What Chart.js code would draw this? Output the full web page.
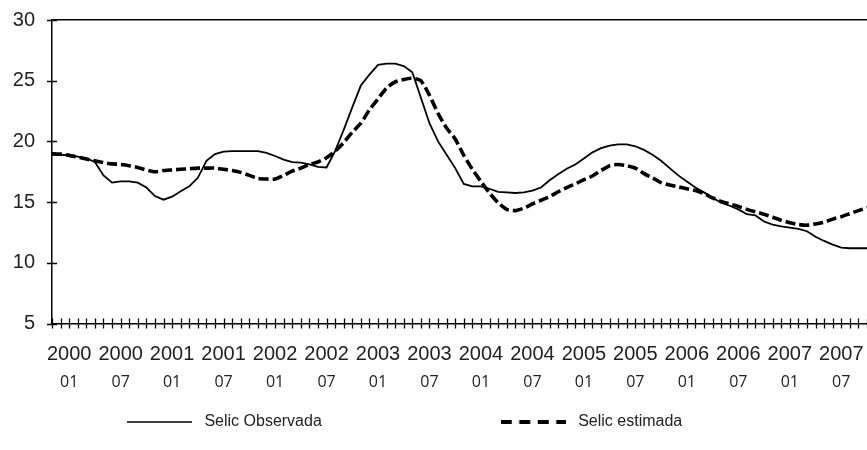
<!DOCTYPE html>
<html lang="pt">
<head>
<meta charset="UTF-8">
<title>Selic observada e estimada</title>
<style>
  html, body { margin: 0; padding: 0; background: #fff; }
  #wrap { width: 867px; height: 450px; }
</style>
</head>
<body>
<div id="wrap"><canvas id="selicChart" width="867" height="450"></canvas></div>
<script src="https://cdn.jsdelivr.net/npm/chart.js"></script>
<script>
// meses (o eixo começa dois meses antes do primeiro rótulo)
const categories = [
  '1999-11','1999-12',
  '2000-01','2000-02','2000-03','2000-04','2000-05','2000-06','2000-07','2000-08','2000-09','2000-10','2000-11','2000-12',
  '2001-01','2001-02','2001-03','2001-04','2001-05','2001-06','2001-07','2001-08','2001-09','2001-10','2001-11','2001-12',
  '2002-01','2002-02','2002-03','2002-04','2002-05','2002-06','2002-07','2002-08','2002-09','2002-10','2002-11','2002-12',
  '2003-01','2003-02','2003-03','2003-04','2003-05','2003-06','2003-07','2003-08','2003-09','2003-10','2003-11','2003-12',
  '2004-01','2004-02','2004-03','2004-04','2004-05','2004-06','2004-07','2004-08','2004-09','2004-10','2004-11','2004-12',
  '2005-01','2005-02','2005-03','2005-04','2005-05','2005-06','2005-07','2005-08','2005-09','2005-10','2005-11','2005-12',
  '2006-01','2006-02','2006-03','2006-04','2006-05','2006-06','2006-07','2006-08','2006-09','2006-10','2006-11','2006-12',
  '2007-01','2007-02','2007-03','2007-04','2007-05','2007-06','2007-07','2007-08','2007-09','2007-10'
];

const labelMonths = ['01', '07'];

const selicObservada = [
  18.9, 18.9, 18.85, 18.75, 18.6, 18.3, 17.2, 16.6, 16.7, 16.7,
  16.6, 16.2, 15.5, 15.2, 15.45, 15.9, 16.3, 17.0, 18.4, 18.95,
  19.15, 19.2, 19.2, 19.2, 19.2, 19.05, 18.8, 18.5, 18.3, 18.25,
  18.1, 17.9, 17.85, 19.2, 20.95, 22.8, 24.6, 25.5, 26.3, 26.4,
  26.4, 26.2, 25.7, 23.6, 21.5, 20.0, 18.9, 17.8, 16.5, 16.3,
  16.3, 16.1, 15.85, 15.8, 15.75, 15.8, 15.95, 16.2, 16.8, 17.3,
  17.75, 18.1, 18.6, 19.1, 19.45, 19.65, 19.75, 19.75, 19.6, 19.3,
  18.9, 18.4, 17.8, 17.2, 16.7, 16.2, 15.8, 15.35, 14.95, 14.7,
  14.4, 14.0, 13.9, 13.4, 13.15, 13.0, 12.9, 12.8, 12.6, 12.15,
  11.8, 11.5, 11.25, 11.2, 11.2, 11.2
];

const selicEstimada = [
  19.0, 18.95, 18.85, 18.7, 18.55, 18.4, 18.25, 18.15, 18.1, 18.0,
  17.85, 17.65, 17.5, 17.6, 17.65, 17.7, 17.75, 17.8, 17.8, 17.8,
  17.7, 17.6, 17.45, 17.2, 16.95, 16.9, 16.9, 17.2, 17.55, 17.8,
  18.1, 18.3, 18.65, 19.2, 19.9, 20.75, 21.5, 22.6, 23.5, 24.4,
  24.9, 25.1, 25.2, 25.0, 23.8, 22.3, 21.1, 20.2, 18.85, 17.7,
  16.7, 15.75, 14.95, 14.4, 14.3, 14.5, 14.85, 15.15, 15.45, 15.85,
  16.2, 16.5, 16.85, 17.15, 17.6, 18.0, 18.1, 18.0, 17.8, 17.35,
  17.0, 16.6, 16.4, 16.25, 16.1, 15.95, 15.7, 15.35, 15.05, 14.85,
  14.65, 14.4, 14.2, 14.0, 13.75, 13.5, 13.3, 13.15, 13.1, 13.2,
  13.35, 13.6, 13.8, 14.05, 14.3, 14.55
];

const yTicks = [5, 10, 15, 20, 25, 30];

const tickFont = { family: "'Liberation Sans', Arial, sans-serif", size: 20 };
const monthFont = { family: "'Open Sans', sans-serif", size: 16 };

function isLabelled(i) {
  return labelMonths.includes(categories[i].slice(5));
}

// amostra de linha para a legenda (o tracejado do Chart.js não vale para pointStyle)
function legendSample(color, width, dash) {
  const c = document.createElement('canvas');
  c.width = 65;
  c.height = 8;
  const g = c.getContext('2d');
  g.strokeStyle = color;
  g.lineWidth = width;
  g.setLineDash(dash);
  g.beginPath();
  g.moveTo(0, 4);
  g.lineTo(65, 4);
  g.stroke();
  return c;
}

// marcas de escala que cruzam os eixos (como no original)
const crossTicks = {
  id: 'crossTicks',
  afterDatasetsDraw(chart) {
    const { ctx, chartArea, scales: { x, y } } = chart;
    ctx.save();
    ctx.strokeStyle = '#000';
    ctx.lineWidth = 1.3;
    ctx.beginPath();
    x.ticks.forEach((t, i) => {
      const px = Math.round(x.getPixelForTick(i)) + 0.5;
      ctx.moveTo(px, chartArea.bottom - 5);
      ctx.lineTo(px, chartArea.bottom + 5);
    });
    y.ticks.forEach((t, i) => {
      const py = Math.round(y.getPixelForTick(i)) + 0.5;
      ctx.moveTo(chartArea.left - 5, py);
      ctx.lineTo(chartArea.left + 5, py);
    });
    ctx.stroke();
    ctx.restore();
  }
};

new Chart(document.getElementById('selicChart'), {
  type: 'line',
  data: {
    labels: categories,
    datasets: [
      {
        label: 'Selic Observada',
        data: selicObservada,
        borderColor: '#000',
        backgroundColor: '#000',
        borderWidth: 1.8,
        pointRadius: 0,
        tension: 0
      },
      {
        label: 'Selic estimada',
        data: selicEstimada,
        borderColor: '#000',
        backgroundColor: '#000',
        borderWidth: 3.6,
        borderDash: [10, 4],
        pointRadius: 0,
        tension: 0.2
      }
    ]
  },
  options: {
    responsive: false,
    animation: false,
    devicePixelRatio: 1,
    layout: { padding: { top: 20, right: 0, bottom: 10, left: 0 } },
    plugins: {
      tooltip: { enabled: false },
      legend: {
        position: 'bottom',
        labels: {
          usePointStyle: true,
          pointStyleWidth: 65,
          padding: 10,
          color: '#222',
          font: { family: "'Liberation Sans', Arial, sans-serif", size: 16 },
          generateLabels(chart) {
            const items = Chart.defaults.plugins.legend.labels.generateLabels(chart);
            items[0].pointStyle = legendSample('#000', 1.6, []);
            items[1].pointStyle = legendSample('#000', 4, [11, 7.5]);
            // espaços para afastar os itens como no original
            items[0].text = ' ' + items[0].text + ' '.repeat(38);
            items[1].text = ' ' + items[1].text + ' '.repeat(13);
            return items;
          }
        }
      }
    },
    scales: {
      x: {
        type: 'category',
        weight: 0,
        afterFit: s => { s.height = 43; s.paddingLeft = 0; s.paddingRight = 0; },
        grid: { drawOnChartArea: false, drawTicks: false },
        border: { color: '#000', width: 1.5 },
        ticks: {
          autoSkip: false,
          maxRotation: 0,
          padding: 19,
          color: '#222',
          font: tickFont,
          callback: (v, i) => isLabelled(i) ? categories[i].slice(0, 4) : ''
        }
      },
      x2: {
        type: 'category',
        labels: categories,
        position: 'bottom',
        weight: 1,
        afterFit: s => { s.height = 37.5; s.paddingLeft = 0; s.paddingRight = 0; },
        grid: { display: false, drawTicks: false },
        border: { display: false },
        ticks: {
          autoSkip: false,
          maxRotation: 0,
          padding: 6,
          color: '#222',
          font: monthFont,
          callback: (v, i) => isLabelled(i) ? categories[i].slice(5) : ''
        }
      },
      y: {
        min: yTicks[0],
        max: yTicks[yTicks.length - 1],
        afterFit: s => { s.width = 52; s.paddingTop = 0; s.paddingBottom = 0; },
        afterBuildTicks: s => { s.ticks = yTicks.map(v => ({ value: v })); },
        grid: {
          drawTicks: false,
          lineWidth: 1.5,
          color: c => c.tick && c.tick.value === 30 ? '#000' : 'rgba(0,0,0,0)'
        },
        border: { color: '#000', width: 1.5 },
        ticks: { padding: 17, color: '#222', font: tickFont }
      }
    }
  },
  plugins: [crossTicks]
});
</script>
</body>
</html>
